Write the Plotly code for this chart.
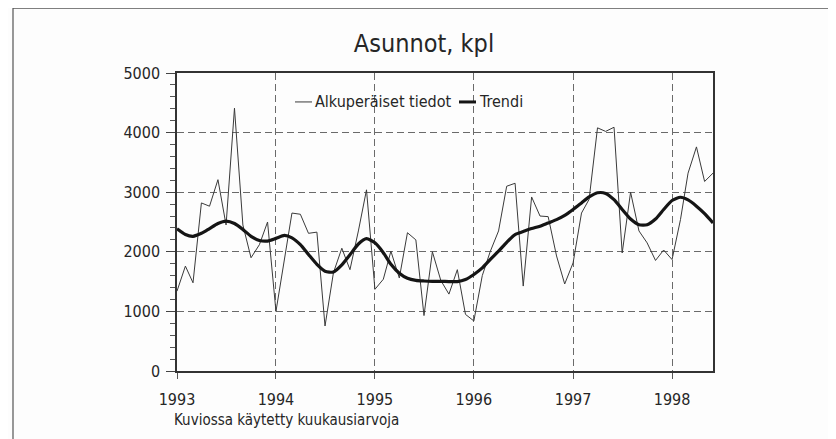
import pandas as pd
import plotly.graph_objects as go

# Monthly values Jan 1993 .. Jun 1998
months = pd.date_range("1993-01-01", periods=66, freq="MS")

original = [
    # 1993
    1340, 1760, 1480, 2820, 2765, 3210, 2450, 4410, 2450, 1900, 2120, 2500,
    # 1994
    1000, 1850, 2650, 2630, 2310, 2330, 755, 1650, 2060, 1700, 2350, 3040,
    # 1995
    1370, 1540, 2010, 1560, 2320, 2200, 930, 2000, 1520, 1290, 1700, 950,
    # 1996
    840, 1600, 2000, 2350, 3100, 3150, 1425, 2920, 2600, 2590, 1930, 1460,
    # 1997
    1815, 2650, 2880, 4080, 4020, 4090, 1980, 3000, 2350, 2150, 1855, 2030,
    # 1998
    1870, 2540, 3320, 3760, 3180, 3320,
]

trend = [
    # 1993
    2385, 2290, 2260, 2310, 2390, 2475, 2515, 2475, 2375, 2260, 2190, 2180,
    # 1994
    2225, 2275, 2235, 2120, 1955, 1790, 1675, 1660, 1780, 1950, 2130, 2220,
    # 1995
    2150, 1985, 1790, 1640, 1555, 1520, 1510, 1505, 1505, 1500, 1500, 1535,
    # 1996
    1620, 1730, 1870, 2010, 2160, 2290, 2340, 2390, 2430, 2485, 2540, 2610,
    # 1997
    2710, 2820, 2920, 2990, 2980, 2875, 2710, 2550, 2455, 2455, 2550, 2710,
    # 1998
    2860, 2915, 2870, 2765, 2640, 2485,
]

title_text = "Asunnot, kpl"
series_names = ["Alkuperäiset tiedot", "Trendi"]
footer_text = "Kuviossa käytetty kuukausiarvoja"
y_ticks = [0, 1000, 2000, 3000, 4000, 5000]

FONT = "DejaVu Sans Condensed, Liberation Sans Narrow, sans-serif"
TXT = "#262626"

# the page body adds an 8px margin; positions below are screenshot pixels
OFF = 8
W, H = 836, 439
L_s, R_s, T_s, B_s = 177, 713, 73, 371.5   # plot area in screenshot pixels
L, T = L_s - OFF, T_s - OFF
R = W - (R_s - OFF)
B = H - (B_s - OFF)
pw, ph = W - L - R, H - T - B

def px_x(x):
    return (x - OFF - L) / pw

def px_y(y):
    return (H - B - (y - OFF)) / ph

fig = go.Figure()
fig.add_trace(go.Scatter(x=months, y=original, mode="lines", name=series_names[0],
                         line=dict(color="#3a3a3a", width=1), showlegend=False))
fig.add_trace(go.Scatter(x=months, y=trend, mode="lines", name=series_names[1],
                         line=dict(color="#151515", width=3.2, shape="spline", smoothing=0.6),
                         showlegend=False))

fig.update_layout(
    width=W, height=H,
    margin=dict(l=L, r=R, t=T, b=B, pad=0),
    paper_bgcolor="#fdfdfd", plot_bgcolor="#fdfdfd",
    font=dict(family=FONT, color=TXT, size=16),
    showlegend=False,
    title=dict(text=title_text, x=px_x(424), xanchor="center", xref="paper",
               y=1 - (43 - OFF) / H, yanchor="middle", yref="container",
               font=dict(size=25, family=FONT, color=TXT)),
)

fig.update_xaxes(
    range=[months[0], months[-1]],
    tickformat="%Y", dtick="M12", tick0="1993-01-01",
    showgrid=True, gridcolor="#6a6a6a", gridwidth=1, griddash="7px,4px",
    ticks="outside", ticklen=6, tickcolor="#555", tickwidth=1,
    showline=True, linecolor="#333", linewidth=1.5, mirror=True,
    tickfont=dict(size=16, family=FONT, color=TXT),
    ticklabelstandoff=7,
    zeroline=False, fixedrange=True,
)
fig.update_yaxes(
    range=[0, 5000], tickvals=y_ticks,
    showgrid=True, gridcolor="#6a6a6a", gridwidth=1, griddash="7px,4px",
    ticks="outside", ticklen=9, tickcolor="#444", tickwidth=1,
    minor=dict(ticks="outside", ticklen=5, dtick=200, tickcolor="#555", showgrid=False),
    showline=True, linecolor="#333", linewidth=1.5, mirror=True,
    tickfont=dict(size=16, family=FONT, color=TXT),
    ticklabelstandoff=3,
    zeroline=False, fixedrange=True,
)

# outer frame of the figure box
fig.add_shape(type="rect", xref="paper", yref="paper",
              x0=px_x(13), x1=px_x(834), y0=px_y(452), y1=px_y(8),
              line=dict(color="#555", width=1.2), fillcolor="rgba(0,0,0,0)", layer="below")

# legend (samples + labels)
ly = px_y(102)
fig.add_shape(type="line", xref="paper", yref="paper", x0=px_x(295), x1=px_x(312),
              y0=ly, y1=ly, line=dict(color="#3a3a3a", width=1))
fig.add_annotation(x=px_x(313), y=ly, xref="paper", yref="paper", text=series_names[0],
                   showarrow=False, xanchor="left", yanchor="middle",
                   font=dict(size=16, family=FONT, color=TXT))
fig.add_shape(type="line", xref="paper", yref="paper", x0=px_x(459), x1=px_x(476),
              y0=ly, y1=ly, line=dict(color="#151515", width=3))
fig.add_annotation(x=px_x(477), y=ly, xref="paper", yref="paper", text=series_names[1],
                   showarrow=False, xanchor="left", yanchor="middle",
                   font=dict(size=16, family=FONT, color=TXT))

# footer note
fig.add_annotation(x=px_x(172), y=px_y(421), xref="paper", yref="paper", text=footer_text,
                   showarrow=False, xanchor="left", yanchor="middle",
                   font=dict(size=15, family=FONT, color=TXT))

fig.write_html("out.html")
